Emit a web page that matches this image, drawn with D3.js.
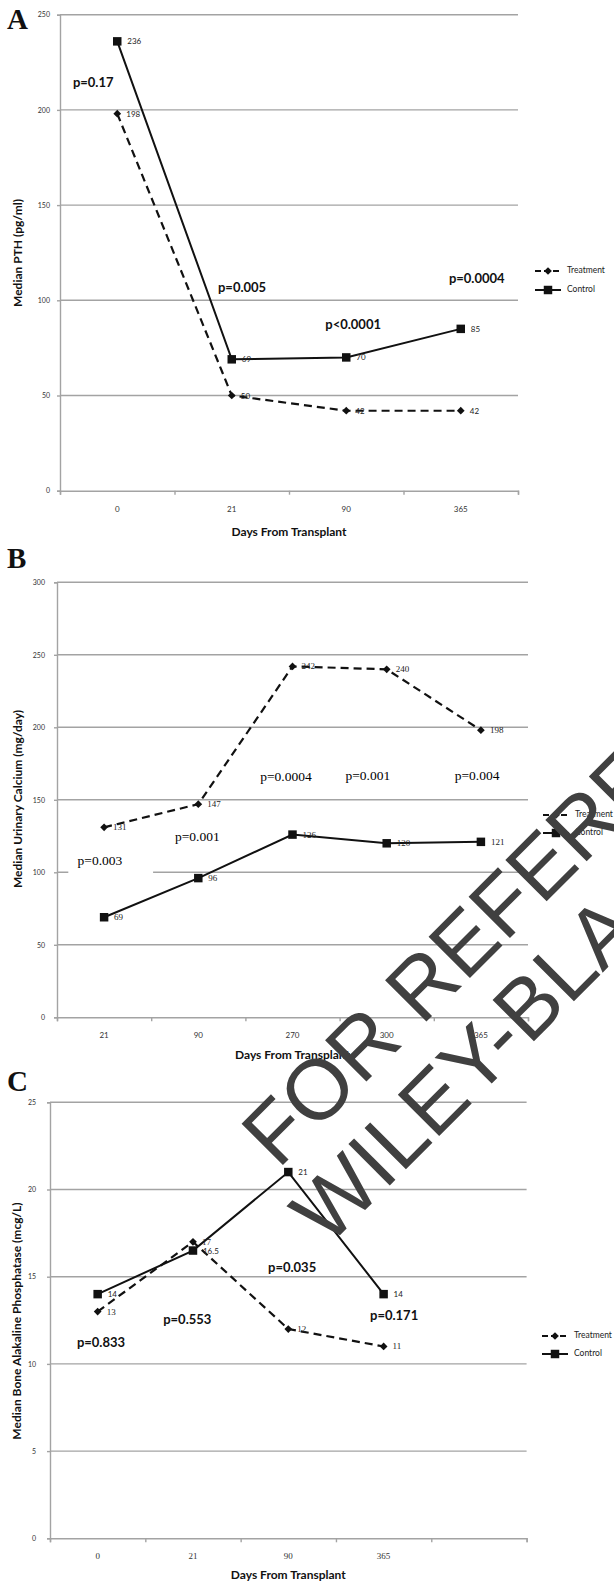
<!DOCTYPE html>
<html>
<head>
<meta charset="utf-8">
<title>Median PTH, urinary calcium and bone alkaline phosphatase</title>
<style>
  body { margin: 0; background: #fff; }
  svg { display: block; }
  .grid line { stroke: #a3a3a3; stroke-width: 1.4px; }
  .axis path, .axis line { stroke: #a3a3a3; stroke-width: 1.4px; }
  .axis text { fill: #333; font-family: Lato, "Open Sans", sans-serif; font-size: 7px; }
  .xlab { fill: #333; font-family: Lato, "Open Sans", sans-serif; font-size: 8px; }
  .xlab.serif { font-family: "Liberation Serif", serif; font-size: 9px; }
  .title { font-family: Lato, "Open Sans", sans-serif; font-weight: bold; font-size: 12px; fill: #111; }
  .letter { font-family: "Liberation Serif", serif; font-weight: bold; font-size: 29px; fill: #111; }
  .pval { font-family: Lato, "Open Sans", sans-serif; font-weight: bold; font-size: 13px; fill: #111; }
  .pval.serif { font-family: "Liberation Serif", serif; font-weight: normal; font-size: 13.5px; fill: #000; }
  .dlab { font-family: Lato, "Open Sans", sans-serif; font-size: 8px; fill: #222; }
  .dlab.serif { font-family: "Liberation Serif", serif; font-size: 9px; }
  .legend text { font-family: Lato, "Open Sans", sans-serif; font-size: 8.5px; fill: #222; }
  .watermark text { font-family: "Liberation Sans", Arial, sans-serif; font-size: 85px; fill: #404040; }
</style>
</head>
<body>
<svg id="chart" width="614" height="1585"></svg>

<script src="https://cdn.jsdelivr.net/npm/d3@7"></script>
<script>
  // panel A - PTH
  var daysA = ["0", "21", "90", "365"];
  var pthTreatment = [198, 50, 42, 42];
  var pthControl = [236, 69, 70, 85];
  var pthTicks = [0, 50, 100, 150, 200, 250];
  var pLabelsA = ["p=0.17", "p=0.005", "p<0.0001", "p=0.0004"];
  // where each p label sits: [category index position, value]
  var pSpotsA = [[0.29, 214], [1.59, 106], [2.56, 86.5], [3.64, 111]];

  // panel B - urinary calcium
  var daysB = ["21", "90", "270", "300", "365"];
  var calciumTreatment = [131, 147, 242, 240, 198];
  var calciumControl = [69, 96, 126, 120, 121];
  var calciumTicks = [0, 50, 100, 150, 200, 250, 300];
  var pLabelsB = ["p=0.003", "p=0.001", "p=0.0004", "p=0.001", "p=0.004"];
  var pSpotsB = [[0.456, 107], [1.49, 123.7], [2.43, 165], [3.30, 165.8], [4.46, 166]];

  // panel C - bone alkaline phosphatase
  var daysC = ["0", "21", "90", "365", " "];
  var balpTreatment = [13, 17, 12, 11];
  var balpControl = [14, 16.5, 21, 14];
  var balpTicks = [0, 5, 10, 15, 20, 25];
  var pLabelsC = ["p=0.833", "p=0.553", "p=0.035", "p=0.171"];
  var pSpotsC = [[0.535, 11.14], [1.44, 12.46], [2.54, 15.44], [3.61, 12.7]];

  var seriesNames = ["Treatment", "Control"];

  var svg = d3.select("#chart");
  svg.append("rect").attr("width", 614).attr("height", 1585).attr("fill", "#fff");

  var diamond = d3.symbol().type(d3.symbolSquare).size(30);
  var square = d3.symbol().type(d3.symbolSquare).size(72);

  function drawPanel(c) {
    var g = svg.append("g");
    var n = c.days.length;

    var x = d3.scaleBand().domain(c.days).range([c.left, c.right]);
    var xi = d3.scaleLinear().domain([0, n]).range([c.left, c.right]);
    var y = d3.scaleLinear().domain([0, d3.max(c.ticks)]).range([c.bottom, c.top]);
    var cx = function (i) { return x(c.days[i]) + x.bandwidth() / 2; };

    // gridlines
    g.append("g").attr("class", "grid")
      .selectAll("line")
      .data(c.ticks.filter(function (t) { return t > 0; }))
      .enter().append("line")
      .attr("x1", c.left).attr("x2", c.right)
      .attr("y1", function (d) { return y(d); })
      .attr("y2", function (d) { return y(d); });

    // white box behind a label (covers the gridline like the original)
    if (c.knockout != null) {
      var k = c.knockout;
      g.append("rect")
        .attr("x", xi(k[0])).attr("width", xi(k[1]) - xi(k[0]))
        .attr("y", y(k[2])).attr("height", y(k[3]) - y(k[2]))
        .attr("fill", "#fff");
    }

    // y axis
    g.append("g").attr("class", "axis")
      .attr("transform", "translate(" + c.left + ",0)")
      .call(d3.axisLeft(y).tickValues(c.ticks).tickSize(3).tickPadding(c.tickPad));

    // x axis: boundary ticks, then the category labels
    g.append("g").attr("class", "axis")
      .attr("transform", "translate(0," + c.bottom + ")")
      .call(d3.axisBottom(xi).tickValues(d3.range(n + 1)).tickSize(4).tickSizeOuter(4).tickFormat(""));

    g.append("g").selectAll("text")
      .data(c.days)
      .enter().append("text")
      .attr("class", c.serifTicks ? "xlab serif" : "xlab")
      .attr("x", function (d) { return x(d) + x.bandwidth() / 2; })
      .attr("y", c.bottom + 19)
      .attr("text-anchor", "middle")
      .attr("dominant-baseline", "middle")
      .text(function (d) { return d; });

    // titles
    g.append("text").attr("class", "title")
      .attr("x", (c.left + c.right) / 2).attr("y", c.bottom + c.xTitleGap)
      .attr("text-anchor", "middle").attr("dominant-baseline", "middle")
      .text("Days From Transplant");

    g.append("text").attr("class", "title")
      .attr("transform", "translate(" + c.yTitleX + "," + c.yTitleY + ") rotate(-90)")
      .attr("text-anchor", "middle").attr("dominant-baseline", "middle")
      .text(c.yTitle);

    g.append("text").attr("class", "letter")
      .attr("x", 7).attr("y", c.letterY)
      .text(c.letter);

    // lines
    var line = d3.line()
      .x(function (d, i) { return cx(i); })
      .y(function (d) { return y(d); });

    g.append("path").datum(c.treatment)
      .attr("d", line).attr("fill", "none")
      .attr("stroke", "#111").attr("stroke-width", 2.2)
      .attr("stroke-dasharray", "8,5");

    g.append("path").datum(c.control)
      .attr("d", line).attr("fill", "none")
      .attr("stroke", "#111").attr("stroke-width", 2);

    g.append("g").selectAll("path")
      .data(c.treatment)
      .enter().append("path")
      .attr("d", diamond).attr("fill", "#111")
      .attr("transform", function (d, i) { return "translate(" + cx(i) + "," + y(d) + ") rotate(45)"; });

    g.append("g").selectAll("path")
      .data(c.control)
      .enter().append("path")
      .attr("d", square).attr("fill", "#111")
      .attr("transform", function (d, i) { return "translate(" + cx(i) + "," + y(d) + ")"; });

    // value labels
    g.append("g").selectAll("text")
      .data(c.treatment)
      .enter().append("text")
      .attr("class", c.serifTreat ? "dlab serif" : "dlab")
      .attr("x", function (d, i) { return cx(i) + 9; })
      .attr("y", function (d) { return y(d) + 3; })
      .text(function (d) { return d; });

    g.append("g").selectAll("text")
      .data(c.control)
      .enter().append("text")
      .attr("class", c.serifCtrl ? "dlab serif" : "dlab")
      .attr("x", function (d, i) { return cx(i) + 10; })
      .attr("y", function (d) { return y(d) + 3; })
      .text(function (d) { return d; });

    // p values
    g.append("g").selectAll("text")
      .data(c.pLabels)
      .enter().append("text")
      .attr("class", c.serifP ? "pval serif" : "pval")
      .attr("x", function (d, i) { return xi(c.pSpots[i][0]); })
      .attr("y", function (d, i) { return y(c.pSpots[i][1]); })
      .attr("text-anchor", "middle")
      .attr("dominant-baseline", "middle")
      .text(function (d) { return d; });

    // legend
    var lg = g.append("g").attr("class", "legend")
      .attr("transform", "translate(" + c.legendX + "," + c.legendY + ")");
    var item = lg.selectAll("g")
      .data(seriesNames)
      .enter().append("g")
      .attr("transform", function (d, i) { return "translate(0," + i * c.legendStep + ")"; });
    item.append("line")
      .attr("x1", 0).attr("x2", 26)
      .attr("stroke", "#111").attr("stroke-width", 2)
      .attr("stroke-dasharray", function (d, i) { return i === 0 ? "6,3" : null; });
    item.append("path")
      .attr("d", function (d, i) { return i === 0 ? diamond() : square(); })
      .attr("fill", "#111")
      .attr("transform", function (d, i) { return i === 0 ? "translate(13,0) rotate(45)" : "translate(13,0)"; });
    item.append("text")
      .attr("x", 32).attr("dominant-baseline", "middle")
      .text(function (d) { return d; });
  }

  drawPanel({
    letter: "A", letterY: 29,
    left: 60, right: 518, top: 14.7, bottom: 490.7,
    days: daysA, ticks: pthTicks, tickPad: 7,
    treatment: pthTreatment, control: pthControl,
    pLabels: pLabelsA, pSpots: pSpotsA, serifP: false,
    serifTreat: false, serifCtrl: false, serifTicks: false,
    yTitle: "Median PTH (pg/ml)", yTitleX: 19, yTitleY: 253, xTitleGap: 42,
    legendX: 535, legendY: 271, legendStep: 19
  });

  drawPanel({
    letter: "B", letterY: 568,
    left: 57, right: 528, top: 582.3, bottom: 1017.3,
    days: daysB, ticks: calciumTicks, tickPad: 9,
    treatment: calciumTreatment, control: calciumControl,
    pLabels: pLabelsB, pSpots: pSpotsB, serifP: true,
    serifTreat: true, serifCtrl: true, serifTicks: false,
    knockout: [0.12, 1.02, 114, 99],
    yTitle: "Median Urinary Calcium (mg/day)", yTitleX: 19, yTitleY: 799, xTitleGap: 39,
    legendX: 543, legendY: 815, legendStep: 18
  });

  drawPanel({
    letter: "C", letterY: 1091,
    left: 50, right: 526.6, top: 1102.3, bottom: 1538.3,
    days: daysC, ticks: balpTicks, tickPad: 11,
    treatment: balpTreatment, control: balpControl,
    pLabels: pLabelsC, pSpots: pSpotsC, serifP: false,
    serifTreat: true, serifCtrl: false, serifTicks: true,
    yTitle: "Median Bone Alakaline Phosphatase (mcg/L)", yTitleX: 18, yTitleY: 1321, xTitleGap: 38,
    legendX: 542, legendY: 1336, legendStep: 18
  });

  // watermark printed over the figure
  var wm = svg.append("g").attr("class", "watermark")
    .attr("transform", "translate(278,1170) rotate(-45)");
  wm.append("text").attr("x", 0).attr("y", 0).text("FOR REFERENCE");
  wm.append("text").attr("x", -20).attr("y", 90).text("WILEY-BLACKWELL");
</script>
</body>
</html>
